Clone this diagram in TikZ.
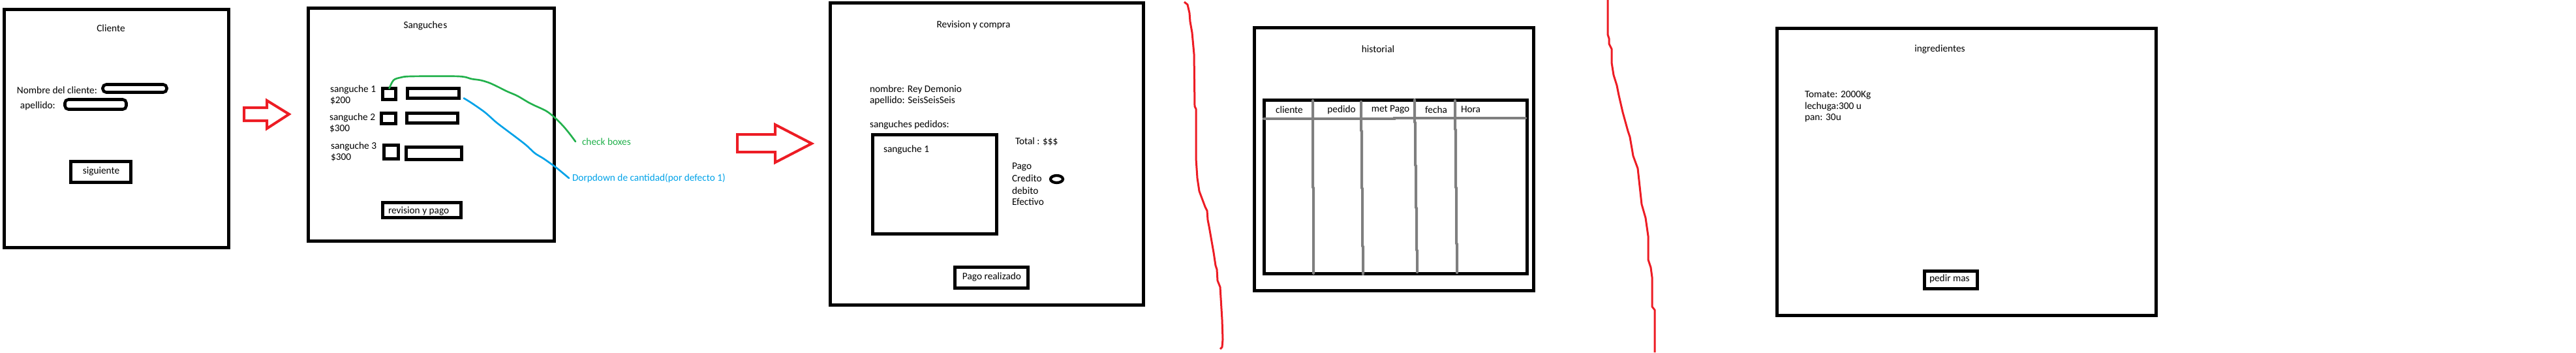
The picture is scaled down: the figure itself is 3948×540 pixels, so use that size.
\documentclass[tikz,border=0pt]{standalone}
\usepackage{fontspec}
\setmainfont{Carlito}
\usetikzlibrary{shapes.geometric}
\definecolor{pred}{HTML}{ED1C24}
\definecolor{pgreen}{HTML}{22B14C}
\definecolor{pblue}{HTML}{00A2E8}
\definecolor{pgray}{HTML}{7F7F7F}
\newcommand\pxbox[6]{\node[#6, minimum width={(#4-#2)*0.75pt}, minimum height={(#5-#3)*0.75pt}] (#1) at ({(#2+#4)/2},{(#3+#5)/2}) {};}
\tikzset{
  every node/.style={font=\fontsize{11.5pt}{14pt}\selectfont, inner sep=0pt, outer sep=0pt},
  frame/.style={draw, line width=3.75pt},
  uibox/.style={draw, line width=3.6pt},
  field/.style={draw, line width=3.4pt, rounded corners=4pt},
  lbl/.style={anchor=west},
  ttl/.style={anchor=center},
  flowarrow/.style={draw=pred, line width=3pt, line join=miter},
  divider/.style={draw=pred, line width=2.25pt, line join=round},
  gridline/.style={draw=pgray, line width=3pt, line cap=round},
  annot/.style={draw=#1, line width=2pt, line cap=round},
}
\begin{document}
\begin{tikzpicture}[x=0.75pt, y=-0.75pt]
\useasboundingbox (0,0) rectangle (3948,540);

% ---------- Cliente ----------
\pxbox{cliente}{6.3}{14.3}{350.7}{379.7}{frame}
\node[ttl] (tcliente) at (170,43) {Cliente};
\node[lbl] (lnombre) at (26,138) {Nombre del cliente:};
\pxbox{fnombre}{157.5}{129.5}{255.5}{141.5}{field}
\node[lbl] (lapellido) at (31,162) {apellido:};
\pxbox{fapellido}{99.5}{152.5}{193.5}{167.5}{field}
\pxbox{bsig}{108.3}{247.3}{200.7}{279.7}{uibox}
\node[ttl] (tsig) at (155,263) {siguiente};

% arrow 1
\draw[flowarrow] (374,165) -- (409,165) -- (409,154) -- (443,175) -- (409,197) -- (409,185) -- (374,185) -- cycle;

% ---------- Sanguches ----------
\pxbox{sanguches}{472.5}{12.5}{849.5}{369.5}{frame}
\node[ttl] (tsang) at (652,39) {Sanguche\kern0.8pt s};
\node[lbl] (s1) at (506,137) {sanguche 1};
\node[lbl] (p1) at (506,154) {\$200};
\node[lbl] (s2) at (505,180) {sanguche 2};
\node[lbl] (p2) at (505,197) {\$300};
\node[lbl] (s3) at (507,224) {sanguche 3};
\node[lbl] (p3) at (507,241) {\$300};
\pxbox{cb1}{586.5}{135.5}{606.5}{152.5}{uibox}
\pxbox{f1}{624.5}{135.5}{703.5}{150.5}{uibox}
\pxbox{cb2}{584.5}{173.5}{606.5}{189.5}{uibox}
\pxbox{f2}{623.5}{173.5}{701.5}{188.5}{uibox}
\pxbox{cb3}{588.5}{222.5}{610.5}{243.5}{uibox}
\pxbox{f3}{622.5}{225.5}{707.5}{244.5}{uibox}
\pxbox{brev}{586.5}{310.5}{706.5}{333.5}{uibox}
\node[lbl] (trev) at (595,324) {revision y pago};

\node[lbl, text=pgreen] (lblcheck) at (892,217) {check boxes};
\node[lbl, text=pblue] (lbldrop) at (877,273) {Dorpdown de cantidad(por defecto 1)};

\draw[annot=pgreen] plot[smooth, tension=0.5] coordinates {(cb1.north) (603,123) (613,119) (630,117) (703,117) (723,121) (737,123) (750,127) (763,133) (777,140) (793,147) (810,157) (820,162) (837,170) (850,180) (863,193) (873,205) ([xshift=-7.5pt]lblcheck.west)};
\draw[annot=pblue] plot[smooth, tension=0.5] coordinates {([xshift=5.5pt]f1.south east) (723,158) (743,172) (760,187) (773,197) (793,212) (807,223) (820,235) (833,243) (850,255) (860,263) ([xshift=-3.75pt]lbldrop.west)};

% arrow 2
\draw[flowarrow] (1130,206) -- (1188,206) -- (1188,191) -- (1244,220) -- (1188,249) -- (1188,233) -- (1130,233) -- cycle;

% ---------- Revision y compra ----------
\pxbox{revision}{1272.5}{4.5}{1752.5}{467.5}{frame}
\node[ttl] (trevision) at (1492,38) {Revision y compra};
\node[lbl] (rnombre) at (1333,137) {nombre: Rey Demonio};
\node[lbl] (rapellido) at (1333,154) {apellido: SeisSeisSeis};
\node[lbl] (rpedidos) at (1333,191) {sanguches pedidos:};
\pxbox{pedidos}{1337.5}{206.5}{1527.5}{358.5}{uibox}
\node[lbl] (rs1) at (1354,229) {sanguche 1};
\node[lbl] (rtotal) at (1556,217) {Total : \$\$\$};
\node[lbl] (rpago) at (1551,256) {Pago};
\node[lbl] (rcredito) at (1551,273) {Credito};
\node[lbl] (rdebito) at (1551,292) {debito};
\node[lbl] (refectivo) at (1551,309) {Efectivo};
\node[draw, ellipse, line width=3.2pt, minimum width=19*0.75pt, minimum height=11*0.75pt] (radio) at (1619.5,274.5) {};
\pxbox{bpago}{1463.5}{409.5}{1575.5}{441.5}{uibox}
\node[ttl] (tpago) at (1520,424) {Pago realizado};

% red divider 1
\draw[divider] plot coordinates {(1815,3) (1820,7) (1823,20) (1824,33) (1827,50) (1830,83) (1831,163) (1833,167) (1833,243) (1835,273) (1838,293) (1847,317) (1850,323) (1851,337) (1853,347) (1860,387) (1863,407) (1865,413) (1866,430) (1870,440) (1873,490) (1874,520) (1873,532) (1870,535)};

% ---------- historial ----------
\pxbox{historial}{1922.5}{42.5}{2350.5}{445.5}{frame}
\node[ttl] (thist) at (2112,75) {historial};
\pxbox{tabla}{1937.5}{153.5}{2340.5}{419.5}{uibox}
\node[ttl] (hcliente) at (1976,168) {cliente};
\node[ttl] (hpedido) at (2056,168) {pedido};
\node[ttl] (hmet) at (2131,168) {met Pago};
\node[ttl] (hfecha) at (2201,168) {fecha};
\node[lbl] (hhora) at (2239,168) {Hora};
\draw[gridline] (1937,182) -- (2137,182) -- (2137,181) -- (2338,181);
\draw[gridline] (2012,154) -- (2012,287) -- (2013,288) -- (2013,419);
\draw[gridline] (2086,156) -- (2086,200) -- (2087,201) -- (2087,288) -- (2088,289) -- (2088,377) -- (2089,378) -- (2089,420);
\draw[gridline] (2168,153) -- (2168,187) -- (2169,188) -- (2169,253) -- (2170,254) -- (2170,318) -- (2171,319) -- (2171,383) -- (2172,384) -- (2172,417);
\draw[gridline] (2230,154) -- (2230,198) -- (2231,199) -- (2231,287) -- (2232,288) -- (2232,373) -- (2233,374) -- (2233,418);

% red divider 2
\draw[divider] plot coordinates {(2464,0) (2464,53) (2466,59) (2466,67) (2470,75) (2470,96) (2473,115) (2478,131) (2481,146) (2487,172) (2495,201) (2498,210) (2503,239) (2510,258) (2516,313) (2522,334) (2526,362) (2526,398) (2530,410) (2532,425) (2532,470) (2536,475) (2536,540)};

% ---------- ingredientes ----------
\pxbox{ingredientes}{2723.5}{43.5}{3304.5}{483.5}{frame}
\node[ttl] (tingr) at (2973,75) {ingredientes};
\node[lbl] (itomate) at (2766,146) {Tomate: 2000Kg};
\node[lbl] (ilechuga) at (2766,163) {lechuga:300 u};
\node[lbl] (ipan) at (2766,181) {pan: 30u};
\pxbox{bpedir}{2949.5}{415.5}{3030.5}{442.5}{uibox}
\node[lbl] (tpedir) at (2957,427) {pedir mas};
\end{tikzpicture}
\end{document}
